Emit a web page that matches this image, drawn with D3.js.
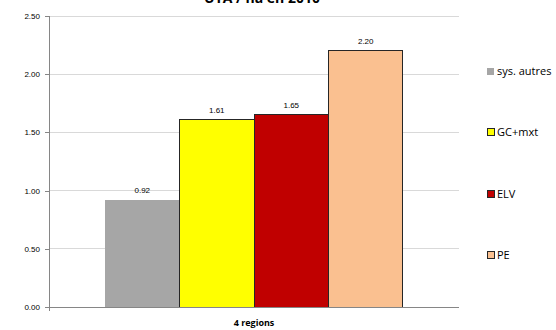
<!DOCTYPE html>
<html><head><meta charset="utf-8">
<script src="https://cdn.jsdelivr.net/npm/d3@7"></script>
<style>body{margin:0;background:#fff}svg{display:block}text{font-family:"Open Sans","Liberation Sans",sans-serif}</style>
</head><body><svg id="c" width="556" height="330"></svg>
<script>
const title = "UTA / ha en 2010";
const category = "4 regions";
const seriesNames = ["sys. autres", "GC+mxt", "ELV", "PE"];
const seriesValues = [0.92, 1.61, 1.65, 2.20];
const seriesColors = ["#a6a6a6", "#ffff00", "#c00000", "#fac090"];
const seriesStroke = ["none", "#262626", "#262626", "#262626"];
const yTicks = [0, 0.5, 1.0, 1.5, 2.0, 2.5];

(function () {
const svg = d3.select("#c");
const pL = 49, pR = 459, pT = 16, pB = 307;
const y = d3.scaleLinear().domain([0, 2.5]).range([pB, pT]);
const x0 = d3.scaleBand().domain([category]).range([pL, pR]).paddingInner(0).paddingOuter(0.188);
const x1 = d3.scaleBand().domain(seriesNames).range([0, x0.bandwidth()]);

svg.append("g").selectAll("line").data(yTicks.filter(d => d > 0)).join("line")
  .attr("x1", pL).attr("x2", pR).attr("y1", d => y(d)).attr("y2", d => y(d))
  .attr("stroke", "#d9d9d9").attr("stroke-width", 1).attr("shape-rendering", "crispEdges");

const ya = svg.append("g").attr("transform", `translate(${pL},0)`)
  .call(d3.axisLeft(y).tickValues(yTicks).tickFormat(d3.format(".2f")).tickSize(4).tickPadding(5));
ya.select(".domain").attr("stroke", "#868686").attr("shape-rendering", "crispEdges");
ya.selectAll(".tick line").attr("stroke", "#868686").attr("shape-rendering", "crispEdges");
ya.selectAll(".tick text").attr("font-size", 8).attr("fill", "#000")
  .style("font-family", "'Liberation Sans', sans-serif");

const g = svg.append("g").attr("transform", `translate(${x0(category)},0)`);
g.selectAll("rect").data(seriesValues).join("rect")
  .attr("x", (d, i) => x1(seriesNames[i]))
  .attr("width", x1.bandwidth())
  .attr("y", d => y(d)).attr("height", d => y(0) - y(d))
  .attr("fill", (d, i) => seriesColors[i])
  .attr("stroke", (d, i) => seriesStroke[i]).attr("stroke-width", 1)
  .attr("shape-rendering", "crispEdges");
g.selectAll("text").data(seriesValues).join("text")
  .attr("x", (d, i) => x1(seriesNames[i]) + x1.bandwidth() / 2)
  .attr("y", d => y(d) - 7)
  .attr("text-anchor", "middle").attr("font-size", 8)
  .style("font-family", "'Liberation Sans', sans-serif")
  .text(d => d3.format(".2f")(d));

svg.append("line").attr("x1", pL).attr("x2", pR).attr("y1", pB).attr("y2", pB)
  .attr("stroke", "#868686").attr("shape-rendering", "crispEdges");
svg.append("line").attr("x1", pL).attr("x2", pL).attr("y1", pB).attr("y2", pB + 4)
  .attr("stroke", "#868686").attr("shape-rendering", "crispEdges");
svg.append("text").attr("x", x0(category) + x0.bandwidth() / 2).attr("y", 326)
  .attr("text-anchor", "middle").attr("font-size", 9).attr("font-weight", "bold").text(category);

svg.append("text").attr("x", 262).attr("y", 3).attr("text-anchor", "middle")
  .attr("font-size", 14).attr("font-weight", "bold").text(title);

const legY = [71, 132, 194, 255];
const lg = svg.append("g").selectAll("g").data(seriesNames).join("g")
  .attr("transform", (d, i) => `translate(487,${legY[i]})`);
lg.append("rect").attr("x", 0).attr("y", -3.5).attr("width", 7).attr("height", 7)
  .attr("fill", (d, i) => seriesColors[i])
  .attr("stroke", (d, i) => seriesStroke[i]).attr("stroke-width", 1).attr("shape-rendering", "crispEdges");
lg.append("text").attr("x", 10).attr("y", 4).attr("font-size", 11).text(d => d);
})();
</script></body></html>
